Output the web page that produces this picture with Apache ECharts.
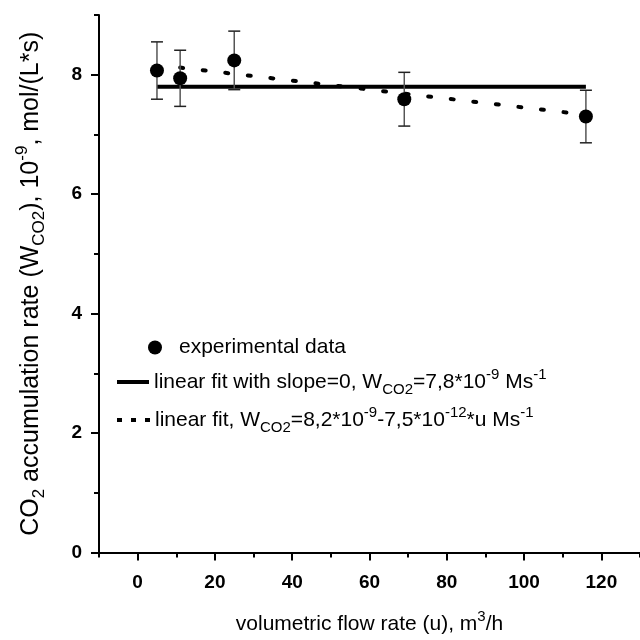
<!DOCTYPE html>
<html><head><meta charset="utf-8">
<script src="https://cdn.jsdelivr.net/npm/echarts@6/dist/echarts.min.js"></script>
<style>html,body{margin:0;padding:0;background:#fff}#c{width:640px;height:640px}</style>
</head><body><div id="c"></div>
<script>
// ---- data ----
const flowRate = [5, 11, 25, 69, 116];
const accRate = [8.07, 7.94, 8.24, 7.59, 7.30];
const accErr = [0.48, 0.47, 0.49, 0.45, 0.44];
const constFitU = [5, 116];
const constFitW = [7.8, 7.8];
const linFitU = [11, 116];
const linFitW = [8.12, 7.33];
const xMajorTicks = [0, 20, 40, 60, 80, 100, 120];
const xMinorTicks = [-10, 10, 30, 50, 70, 90, 110, 130];
const yMajorTicks = [0, 2, 4, 6, 8];
const yMinorTicks = [1, 3, 5, 7, 9];

const FONT = "'Liberation Sans', Arial, sans-serif";
const rich = {
  n: { fontFamily: FONT, fontSize: 21, lineHeight: 30, color: '#000' },
  sub: { fontFamily: FONT, fontSize: 15, lineHeight: 15, verticalAlign: 'bottom', color: '#000' },
  sup: { fontFamily: FONT, fontSize: 15, lineHeight: 15, verticalAlign: 'top', color: '#000' }
};
const richY = {
  n: { fontFamily: FONT, fontSize: 25, lineHeight: 34, color: '#000' },
  sub: { fontFamily: FONT, fontSize: 17, lineHeight: 17, verticalAlign: 'bottom', color: '#000' },
  sup: { fontFamily: FONT, fontSize: 17, lineHeight: 17, verticalAlign: 'top', color: '#000' }
};

const pts = flowRate.map((u, i) => [u, accRate[i]]);
const errData = flowRate.map((u, i) => [u, accRate[i] - accErr[i], accRate[i] + accErr[i]]);

const chart = echarts.init(document.getElementById('c'), null, { renderer: 'canvas' });
const tickLabel = { fontFamily: FONT, fontSize: 19, fontWeight: 'bold', color: '#000' };

chart.setOption({
  animation: false,
  backgroundColor: '#fff',
  grid: { left: 99, top: 15, width: 545, height: 548, containLabel: false },
  xAxis: [{
    type: 'value', min: -10, max: 130, interval: 10,
    axisLine: { show: true, onZero: false, lineStyle: { color: '#000', width: 2 } },
    axisTick: { show: true, customValues: xMajorTicks, length: 8, lineStyle: { color: '#000', width: 2 } },
    axisLabel: { show: true, customValues: xMajorTicks, margin: 21, ...tickLabel },
    splitLine: { show: false },
    name: '{n|volumetric flow rate (u), m}{sup|3}{n|/h}',
    nameLocation: 'middle', nameGap: 57,
    nameTextStyle: { rich }
  }, {
    type: 'value', min: -10, max: 130, interval: 10, position: 'bottom',
    axisLine: { show: false, onZero: false },
    axisTick: { show: true, customValues: xMinorTicks, length: 5, lineStyle: { color: '#000', width: 2 } },
    axisLabel: { show: false },
    splitLine: { show: false }
  }],
  yAxis: [{
    type: 'value', min: 0, max: 9, interval: 1,
    axisLine: { show: true, onZero: false, lineStyle: { color: '#000', width: 2 } },
    axisTick: { show: true, customValues: yMajorTicks, length: 8, lineStyle: { color: '#000', width: 2 } },
    axisLabel: { show: true, customValues: yMajorTicks, margin: 17, ...tickLabel },
    splitLine: { show: false },
    name: '{n|CO}{sub|2}{n| accumulation rate (W}{sub|CO2}{n|), 10}{sup|-9}{n|, mol/(L*s)}',
    nameLocation: 'middle', nameGap: 51,
    nameTextStyle: { rich: richY }
  }, {
    type: 'value', min: 0, max: 9, interval: 1, position: 'left',
    axisLine: { show: false, onZero: false },
    axisTick: { show: true, customValues: yMinorTicks, length: 5, lineStyle: { color: '#000', width: 2 } },
    axisLabel: { show: false },
    splitLine: { show: false }
  }],
  legend: [{
    data: [{ name: 'experimental data', icon: 'circle' }],
    left: 148, top: 337, padding: 0,
    itemWidth: 38, itemHeight: 14, selectedMode: false,
    itemStyle: { color: '#000', opacity: 1 },
    textStyle: { rich },
    formatter: () => '{n|experimental data}'
  }, {
    data: [{ name: 'slope0', icon: 'rect' }],
    left: 117, top: 367, padding: 0, itemWidth: 32, itemHeight: 4, selectedMode: false,
    textStyle: { rich },
    formatter: () => '{n|linear fit with slope=0, W}{sub|CO2}{n|=7,8*10}{sup|-9}{n| Ms}{sup|-1}'
  }, {
    data: [{ name: 'linfit', icon: 'path://M0,0h5v4h-5zM14,0h5v4h-5zM28,0h5v4h-5z' }],
    left: 117, top: 405, padding: 0, itemWidth: 33, itemHeight: 4, selectedMode: false,
    textStyle: { rich },
    formatter: () => '{n|linear fit, W}{sub|CO2}{n|=8,2*10}{sup|-9}{n|-7,5*10}{sup|-12}{n|*u Ms}{sup|-1}'
  }],
  series: [{
    name: 'slope0', type: 'line',
    data: constFitU.map((u, i) => [u, constFitW[i]]),
    symbol: 'none', showSymbol: false, z: 2,
    itemStyle: { color: '#000' },
    lineStyle: { color: '#000', width: 4 }
  }, {
    name: 'linfit', type: 'line',
    data: linFitU.map((u, i) => [u, linFitW[i]]),
    symbol: 'none', showSymbol: false, z: 2,
    itemStyle: { color: '#000' },
    lineStyle: { color: '#000', width: 4, type: [3, 19.7], cap: 'round' }
  }, {
    name: 'errorbars', type: 'custom', z: 3,
    data: errData,
    renderItem: function (params, api) {
      const x = api.value(0);
      const lo = api.coord([x, api.value(1)]);
      const hi = api.coord([x, api.value(2)]);
      const hw = 6;
      return {
        type: 'group',
        children: [
          { type: 'line', shape: { x1: lo[0], y1: lo[1], x2: hi[0], y2: hi[1] }, style: { stroke: '#555', lineWidth: 1.5 } },
          { type: 'line', shape: { x1: lo[0] - hw, y1: lo[1], x2: lo[0] + hw, y2: lo[1] }, style: { stroke: '#222', lineWidth: 1.5 } },
          { type: 'line', shape: { x1: hi[0] - hw, y1: hi[1], x2: hi[0] + hw, y2: hi[1] }, style: { stroke: '#222', lineWidth: 1.5 } }
        ]
      };
    }
  }, {
    name: 'experimental data', type: 'scatter', z: 5,
    data: pts, symbol: 'circle', symbolSize: 14,
    itemStyle: { color: '#000', opacity: 1 }
  }]
});
</script>
</body></html>
